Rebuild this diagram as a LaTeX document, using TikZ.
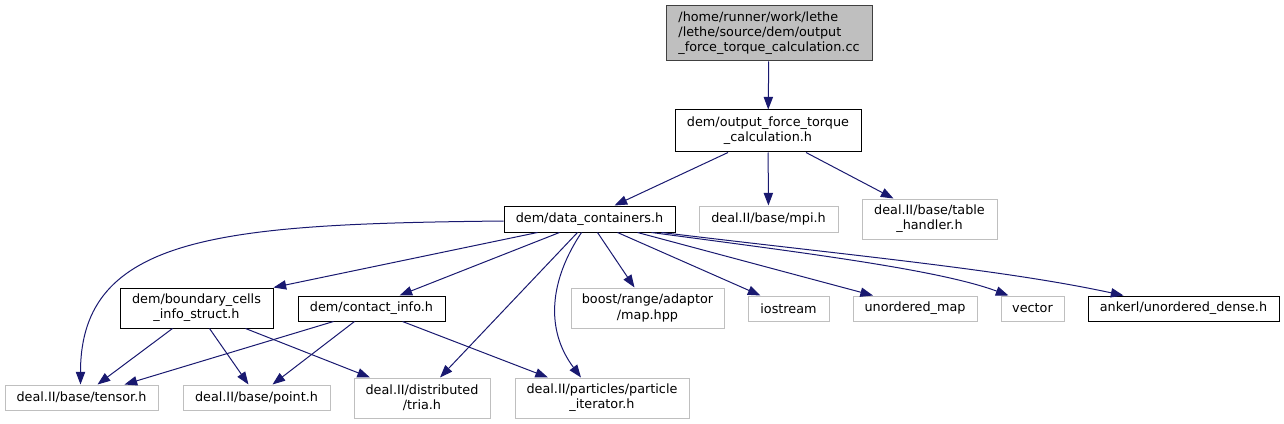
\documentclass[tikz,border=0pt]{standalone}
\usepackage{fontspec}
\setmainfont{DejaVu Sans}
\usepackage{xcolor}
\usetikzlibrary{arrows.meta,positioning,calc}
\definecolor{edgeblue}{HTML}{191970}
\definecolor{extgray}{HTML}{BFBFBF}
\definecolor{rootline}{HTML}{404040}
\tikzset{box/.style 2 args={minimum width=#1*0.75pt, minimum height=#2*0.75pt}}

\begin{document}
\begin{tikzpicture}[x=0.75pt, y=-0.75pt, >={Triangle[length=9.5pt,width=7pt]}, font=\fontsize{9.6}{11.3}\selectfont]
  % ------- styles -------
  \tikzstyle{file}=[draw, align=center, inner sep=0pt, line width=0.75pt]
  \tikzstyle{doc}=[file, draw=black]
  \tikzstyle{ext}=[file, draw=extgray]
  \tikzstyle{root}=[file, draw=rootline, fill=extgray, align=left]
  \tikzstyle{dep}=[->, draw=edgeblue, line width=0.75pt]

  \useasboundingbox (0,0) rectangle (1284,424);

  % ------- nodes -------
  \node[root, box={206}{55}] (src)  at (769,33.5) {/home/runner/work/lethe\\/lethe/source/dem/output\\\_force\_torque\_calculation.cc};
  \node[doc, box={186}{42}]  (outh) at (768,131)  {dem/output\_force\_torque\\\_calculation.h};

  \node[doc, box={171}{26}]  (data)  at (589.5,219) {dem/data\_containers.h};
  \node[ext, box={139}{26}]  (mpi)   at (768.5,219) {deal.II/base/mpi.h};
  \node[ext, box={135}{40}]  (table) at (929.5,219) {deal.II/base/table\\\_handler.h};

  \node[doc, box={153}{40}]  (bnd)     at (196.5,308)  {dem/boundary\_cells\\\_info\_struct.h};
  \node[doc, box={147}{25}]  (contact) at (371.5,308.5) {dem/contact\_info.h};
  \node[ext, box={153}{40}]  (boost)   at (647.5,308)  {boost/range/adaptor\\/map.hpp};
  \node[ext, box={81}{25}]   (ios)     at (788.5,308.5) {iostream};
  \node[ext, box={124}{25}]  (umap)    at (915,308.5)   {unordered\_map};
  \node[ext, box={63}{25}]   (vec)     at (1032.5,308.5) {vector};
  \node[doc, box={191}{25}]  (ankerl)  at (1183.5,308.5) {ankerl/unordered\_dense.h};

  \node[ext, box={153}{25}]  (tensor) at (81.5,397.5) {deal.II/base/tensor.h};
  \node[ext, box={147}{25}]  (point)  at (256.5,397.5) {deal.II/base/point.h};
  \node[ext, box={136}{40}]  (tria)   at (422,398)    {deal.II/distributed\\/tria.h};
  \node[ext, box={174}{40}]  (pit)    at (602,398)    {deal.II/particles/particle\\\_iterator.h};

  % ------- arrows -------
  \draw[dep] (src) -- (outh);
  \draw[dep] ($(outh.south)+(-40,0)$) -- ($(data.north)+(25,0)$);
  \draw[dep] (outh) -- (mpi);
  \draw[dep] ($(outh.south)+(38,0)$) -- ($(table.north)+(-36,0)$);

  \draw[dep] ($(data.west)+(0,2)$) .. controls +(-280,3) and +(0,-150) .. ($(tensor.north)+(-1,0)$);
  \draw[dep] ($(data.south)+(-52,0)$) -- (bnd.north east);
  \draw[dep] ($(data.south)+(-30,0)$) -- ($(contact.north)+(28,0)$);
  \draw[dep] ($(data.south)+(-12,0)$) -- ($(tria.north)+(18,0)$);
  \draw[dep] ($(data.south)+(-8,0)$) .. controls +(-32,48) and +(-36,-48) .. ($(pit.north)+(-21,0)$);
  \draw[dep] ($(data.south)+(8,0)$) -- ($(boost.north)+(-13,0)$);
  \draw[dep] ($(data.south)+(28,0)$) -- ($(ios.north)+(-28,0)$);
  \draw[dep] ($(data.south)+(48,0)$) -- ($(umap.north)+(-42,0)$);
  \draw[dep] ($(data.south)+(62,0)$) .. controls +(150,20) and +(-70,-26) .. ($(vec.north)+(-24,0)$);
  \draw[dep] ($(data.south)+(72,0)$) .. controls +(190,23) and +(-120,-26) .. ($(ankerl.north)+(-60,0)$);

  \draw[dep] ($(bnd.south)+(-24,0)$) -- ($(tensor.north)+(16,0)$);
  \draw[dep] ($(bnd.south)+(13,0)$) -- ($(point.north)+(-8,0)$);
  \draw[dep] ($(bnd.south)+(49,0)$) -- ($(tria.north)+(-52,0)$);

  \draw[dep] ($(contact.south)+(-38,0)$) -- ($(tensor.north)+(43,0)$);
  \draw[dep] ($(contact.south)+(-17,0)$) -- ($(point.north)+(16,0)$);
  \draw[dep] ($(contact.south)+(31,0)$) -- ($(pit.north)+(-54,0)$);

\end{tikzpicture}
\end{document}
